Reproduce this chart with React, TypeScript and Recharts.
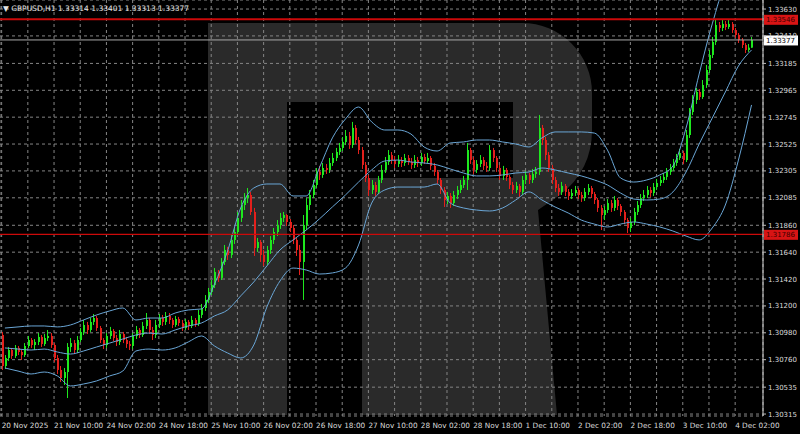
import React from 'react';
import { ComposedChart, Bar, Line, XAxis, YAxis, CartesianGrid, ReferenceLine } from 'recharts';

// GBPUSD H1, one value per hourly bar (open = previous close)
const firstOpen = 1.30962;

const closes = [
  1.30708, 1.30774, 1.30839, 1.30790, 1.30856, 1.30823, 1.30798, 1.30872, 1.30921, 1.30880,
  1.30905, 1.30946, 1.30888, 1.30937, 1.30954, 1.30880, 1.30774, 1.30676, 1.30610, 1.30659,
  1.30864, 1.30896, 1.30839, 1.30921, 1.30987, 1.31044, 1.31003, 1.31069, 1.31101, 1.31019,
  1.30921, 1.30880, 1.30954, 1.30995, 1.30937, 1.30905, 1.30970, 1.30921, 1.30888, 1.30872,
  1.30954, 1.31003, 1.30962, 1.31036, 1.31085, 1.31003, 1.30962, 1.31044, 1.31101, 1.31069,
  1.31118, 1.31085, 1.31044, 1.31093, 1.31060, 1.31019, 1.31069, 1.31036, 1.31085, 1.31052,
  1.31126, 1.31183, 1.31249, 1.31314, 1.31371, 1.31478, 1.31429, 1.31560, 1.31658, 1.31617,
  1.31740, 1.31805, 1.31920, 1.32026, 1.32083, 1.32108, 1.31969, 1.31674, 1.31723, 1.31617,
  1.31560, 1.31658, 1.31740, 1.31805, 1.31862, 1.31920, 1.31944, 1.31887, 1.31838, 1.31740,
  1.31658, 1.31560, 1.31862, 1.32026, 1.32108, 1.32190, 1.32297, 1.32272, 1.32329, 1.32313,
  1.32370, 1.32411, 1.32460, 1.32493, 1.32542, 1.32591, 1.32517, 1.32657, 1.32558, 1.32476,
  1.32354, 1.32247, 1.32149, 1.32190, 1.32133, 1.32231, 1.32313, 1.32378, 1.32435, 1.32394,
  1.32362, 1.32394, 1.32370, 1.32411, 1.32378, 1.32354, 1.32394, 1.32370, 1.32419, 1.32386,
  1.32411, 1.32346, 1.32297, 1.32231, 1.32149, 1.32067, 1.32100, 1.32042, 1.32108, 1.32149,
  1.32190, 1.32231, 1.32476, 1.32394, 1.32313, 1.32362, 1.32394, 1.32346, 1.32329, 1.32476,
  1.32411, 1.32329, 1.32264, 1.32313, 1.32256, 1.32190, 1.32149, 1.32182, 1.32133, 1.32231,
  1.32272, 1.32231, 1.32280, 1.32297, 1.32657, 1.32558, 1.32435, 1.32329, 1.32231, 1.32165,
  1.32133, 1.32182, 1.32133, 1.32100, 1.32124, 1.32149, 1.32108, 1.32083, 1.32133, 1.32165,
  1.32116, 1.32067, 1.32002, 1.31944, 1.31985, 1.32042, 1.32002, 1.32067, 1.32018, 1.31969,
  1.31903, 1.31838, 1.31887, 1.31969, 1.32026, 1.32083, 1.32108, 1.32149, 1.32124, 1.32173,
  1.32206, 1.32231, 1.32256, 1.32297, 1.32329, 1.32370, 1.32411, 1.32452, 1.32394, 1.32599,
  1.32787, 1.32886, 1.32951, 1.32910, 1.33008, 1.33131, 1.33254, 1.33360, 1.33499, 1.33475,
  1.33508, 1.33483, 1.33508, 1.33458, 1.33418, 1.33377, 1.33336, 1.33295, 1.33314, 1.33377,
];

const highs = [
  1.30987, 1.30798, 1.30864, 1.30856, 1.30880, 1.30872, 1.30839, 1.30896, 1.30954, 1.30937,
  1.30929, 1.30978, 1.30962, 1.30970, 1.31003, 1.30978, 1.30896, 1.30798, 1.30708, 1.30692,
  1.30896, 1.30937, 1.30921, 1.30954, 1.31019, 1.31085, 1.31069, 1.31101, 1.31134, 1.31118,
  1.31036, 1.30937, 1.30978, 1.31028, 1.31011, 1.30962, 1.31003, 1.30987, 1.30946, 1.30913,
  1.30978, 1.31036, 1.31019, 1.31069, 1.31142, 1.31101, 1.31028, 1.31085, 1.31134, 1.31126,
  1.31150, 1.31142, 1.31101, 1.31118, 1.31110, 1.31085, 1.31093, 1.31085, 1.31118, 1.31101,
  1.31167, 1.31216, 1.31289, 1.31347, 1.31412, 1.31510, 1.31494, 1.31592, 1.31699, 1.31683,
  1.31781, 1.31838, 1.31969, 1.32067, 1.32124, 1.32165, 1.32132, 1.32002, 1.31756, 1.31740,
  1.31658, 1.31691, 1.31772, 1.31838, 1.31903, 1.31961, 1.31969, 1.31952, 1.31911, 1.31862,
  1.31756, 1.31699, 1.31944, 1.32083, 1.32149, 1.32231, 1.32329, 1.32346, 1.32370, 1.32362,
  1.32411, 1.32452, 1.32493, 1.32534, 1.32583, 1.32640, 1.32624, 1.32706, 1.32681, 1.32583,
  1.32501, 1.32378, 1.32272, 1.32231, 1.32215, 1.32264, 1.32354, 1.32419, 1.32476, 1.32460,
  1.32427, 1.32435, 1.32419, 1.32444, 1.32435, 1.32411, 1.32435, 1.32419, 1.32452, 1.32444,
  1.32452, 1.32427, 1.32370, 1.32313, 1.32247, 1.32173, 1.32133, 1.32124, 1.32141, 1.32182,
  1.32231, 1.32264, 1.32534, 1.32493, 1.32419, 1.32394, 1.32435, 1.32419, 1.32378, 1.32517,
  1.32493, 1.32427, 1.32354, 1.32346, 1.32329, 1.32272, 1.32215, 1.32215, 1.32198, 1.32264,
  1.32305, 1.32288, 1.32321, 1.32337, 1.32763, 1.32681, 1.32583, 1.32460, 1.32354, 1.32256,
  1.32198, 1.32215, 1.32198, 1.32157, 1.32157, 1.32182, 1.32165, 1.32133, 1.32165, 1.32198,
  1.32182, 1.32133, 1.32083, 1.32026, 1.32018, 1.32075, 1.32067, 1.32100, 1.32083, 1.32034,
  1.31985, 1.31920, 1.31920, 1.32002, 1.32059, 1.32116, 1.32149, 1.32182, 1.32173, 1.32206,
  1.32239, 1.32264, 1.32288, 1.32329, 1.32362, 1.32403, 1.32444, 1.32485, 1.32468, 1.32640,
  1.32820, 1.32926, 1.32984, 1.32975, 1.33049, 1.33172, 1.33295, 1.33401, 1.33540, 1.33524,
  1.33540, 1.33532, 1.33540, 1.33524, 1.33475, 1.33434, 1.33393, 1.33352, 1.33344, 1.33401,
];

const lows = [
  1.30676, 1.30684, 1.30749, 1.30766, 1.30774, 1.30798, 1.30757, 1.30782, 1.30856, 1.30856,
  1.30839, 1.30880, 1.30864, 1.30872, 1.30913, 1.30856, 1.30741, 1.30643, 1.30578, 1.30553,
  1.30446, 1.30823, 1.30806, 1.30815, 1.30905, 1.30962, 1.30970, 1.30987, 1.31044, 1.30995,
  1.30896, 1.30847, 1.30856, 1.30929, 1.30913, 1.30872, 1.30880, 1.30896, 1.30856, 1.30839,
  1.30847, 1.30929, 1.30937, 1.30946, 1.31011, 1.30970, 1.30921, 1.30937, 1.31019, 1.31036,
  1.31044, 1.31052, 1.31019, 1.31028, 1.31036, 1.30995, 1.31003, 1.31003, 1.31019, 1.31028,
  1.31036, 1.31101, 1.31159, 1.31224, 1.31289, 1.31347, 1.31396, 1.31412, 1.31535, 1.31576,
  1.31592, 1.31707, 1.31781, 1.31887, 1.31985, 1.32042, 1.31944, 1.31609, 1.31642, 1.31560,
  1.31527, 1.31535, 1.31625, 1.31707, 1.31772, 1.31830, 1.31887, 1.31854, 1.31805, 1.31707,
  1.31609, 1.31453, 1.31249, 1.31821, 1.31985, 1.32083, 1.32165, 1.32231, 1.32248, 1.32280,
  1.32288, 1.32346, 1.32386, 1.32435, 1.32468, 1.32517, 1.32485, 1.32493, 1.32525, 1.32443,
  1.32321, 1.32214, 1.32100, 1.32116, 1.32100, 1.32116, 1.32206, 1.32288, 1.32354, 1.32362,
  1.32329, 1.32337, 1.32337, 1.32346, 1.32354, 1.32321, 1.32329, 1.32337, 1.32346, 1.32362,
  1.32370, 1.32313, 1.32264, 1.32198, 1.32116, 1.32010, 1.32034, 1.32002, 1.32018, 1.32075,
  1.32124, 1.32165, 1.32149, 1.32362, 1.32280, 1.32288, 1.32337, 1.32313, 1.32297, 1.32305,
  1.32378, 1.32297, 1.32231, 1.32231, 1.32223, 1.32157, 1.32116, 1.32124, 1.32092, 1.32108,
  1.32198, 1.32198, 1.32206, 1.32248, 1.32272, 1.32517, 1.32394, 1.32297, 1.32198, 1.32133,
  1.32100, 1.32108, 1.32100, 1.32067, 1.32075, 1.32100, 1.32075, 1.32051, 1.32059, 1.32108,
  1.32083, 1.32034, 1.31969, 1.31821, 1.31903, 1.31961, 1.31969, 1.31977, 1.31985, 1.31936,
  1.31870, 1.31797, 1.31805, 1.31862, 1.31944, 1.32002, 1.32059, 1.32083, 1.32092, 1.32100,
  1.32149, 1.32182, 1.32206, 1.32231, 1.32272, 1.32305, 1.32346, 1.32394, 1.32362, 1.32378,
  1.32575, 1.32763, 1.32853, 1.32886, 1.32894, 1.32984, 1.33106, 1.33229, 1.33336, 1.33442,
  1.33450, 1.33458, 1.33467, 1.33434, 1.33393, 1.33352, 1.33311, 1.33270, 1.33279, 1.33313,
];

// Bollinger bands, read every 4th bar starting at bar 1
const bandFirstBar = 1;
const bandStep = 4;

const upperBand = [
  1.31019, 1.31028, 1.31036, 1.31036, 1.31028, 1.31044, 1.31085, 1.31126, 1.31159, 1.31183,
  1.31085, 1.31101, 1.31101, 1.31142, 1.31167, 1.31175, 1.31379, 1.31650, 1.32002, 1.32165,
  1.32198, 1.32198, 1.32100, 1.32100, 1.32329, 1.32575, 1.32730, 1.32828, 1.32706, 1.32640,
  1.32640, 1.32607, 1.32501, 1.32468, 1.32534, 1.32542, 1.32558, 1.32558, 1.32542, 1.32525,
  1.32501, 1.32575, 1.32624, 1.32624, 1.32624, 1.32615, 1.32476, 1.32247, 1.32214, 1.32231,
  1.32272, 1.32346, 1.32656, 1.33098, 1.33508, 1.33827, 1.33909, 1.33745,
];

const middleBand = [
  1.30856, 1.30847, 1.30839, 1.30847, 1.30823, 1.30806, 1.30831, 1.30864, 1.30896, 1.30929,
  1.30962, 1.30978, 1.30970, 1.31003, 1.31036, 1.31060, 1.31118, 1.31167, 1.31282, 1.31396,
  1.31527, 1.31658, 1.31740, 1.31821, 1.31911, 1.32010, 1.32108, 1.32214, 1.32313, 1.32386,
  1.32394, 1.32378, 1.32370, 1.32354, 1.32321, 1.32288, 1.32264, 1.32264, 1.32272, 1.32288,
  1.32296, 1.32329, 1.32313, 1.32288, 1.32264, 1.32231, 1.32190, 1.32124, 1.32075, 1.32067,
  1.32075, 1.32133, 1.32296, 1.32525, 1.32738, 1.32951, 1.33164, 1.33295,
];

const lowerBand = [
  1.30692, 1.30667, 1.30643, 1.30659, 1.30627, 1.30545, 1.30561, 1.30586, 1.30627, 1.30667,
  1.30831, 1.30847, 1.30839, 1.30856, 1.30905, 1.30954, 1.30872, 1.30815, 1.30774, 1.30880,
  1.31191, 1.31404, 1.31510, 1.31494, 1.31461, 1.31470, 1.31510, 1.31699, 1.32042, 1.32149,
  1.32173, 1.32173, 1.32173, 1.32198, 1.32042, 1.32002, 1.31985, 1.31977, 1.32002, 1.32067,
  1.32133, 1.32067, 1.32010, 1.31961, 1.31903, 1.31870, 1.31846, 1.31870, 1.31887, 1.31870,
  1.31846, 1.31813, 1.31772, 1.31740, 1.31838, 1.32026, 1.32394, 1.32845,
];

const timeLabelBars = [0, 16, 32, 48, 64, 80, 96, 112, 128, 144, 160, 176, 192, 208, 224];
const timeLabels = [
  '20 Nov 2025', '21 Nov 10:00', '24 Nov 02:00', '24 Nov 18:00', '25 Nov 10:00',
  '26 Nov 02:00', '26 Nov 18:00', '27 Nov 10:00', '28 Nov 02:00', '28 Nov 18:00',
  '1 Dec 10:00', '2 Dec 02:00', '2 Dec 18:00', '3 Dec 10:00', '4 Dec 02:00',
];

const priceTicks = [
  1.33630, 1.33410, 1.33185, 1.32965, 1.32745, 1.32525, 1.32305, 1.32085,
  1.31860, 1.31640, 1.31420, 1.31200, 1.30980, 1.30760, 1.30535, 1.30315,
];

const resistance = 1.33546;
const support = 1.31786;
const bid = 1.33377;
const symbolTitle = 'GBPUSD,H1';

const W = 800;
const H = 434;
const shiftBars = 3; // empty space right of the last bar
const UP = '#1ee81e';
const DOWN = '#e4201c';
const BAND = '#6aa6d6';
const FONT = 'DejaVu Sans, Verdana, sans-serif';

const rows = Array.from({ length: closes.length + shiftBars }, (_, i) => {
  const row: any = { bar: i };
  if (i < closes.length) {
    row.open = i === 0 ? firstOpen : closes[i - 1];
    row.close = closes[i];
    row.high = highs[i];
    row.low = lows[i];
    row.range = [lows[i], highs[i]];
  }
  const k = (i - bandFirstBar) / bandStep;
  if (Number.isInteger(k) && k >= 0 && k < upperBand.length) {
    row.upper = upperBand[k];
    row.middle = middleBand[k];
    row.lower = lowerBand[k];
  }
  return row;
});

const gridBars = timeLabelBars.flatMap((b) => [b, b + 8]).filter((b) => b <= 224);

const last = closes.length - 1;
const header = `${symbolTitle}  ${closes[last - 1].toFixed(5)} ${highs[last].toFixed(5)} ${lows[last].toFixed(5)} ${closes[last].toFixed(5)}`;

const Candle = (props: any) => {
  const { x, y, width, height, payload } = props;
  if (!payload || payload.close == null || !height) return null;
  const { open, close, high, low } = payload;
  const k = height / (high - low);
  const yOf = (v: number) => y + (high - v) * k;
  const cx = Math.round(x + width / 2);
  const color = close >= open ? UP : DOWN;
  const top = yOf(Math.max(open, close));
  const bottom = yOf(Math.min(open, close));
  return (
    <g>
      <line x1={cx + 0.5} x2={cx + 0.5} y1={y} y2={y + height} stroke={color} strokeWidth={1} />
      <rect x={cx} y={top} width={2} height={Math.max(1, bottom - top)} fill={color} />
    </g>
  );
};

const TimeTick = (props: any) => {
  const { x, y, payload } = props;
  const idx = timeLabelBars.indexOf(payload.value);
  if (idx < 0) return null;
  return (
    <text x={x} y={y} dy={4} fill="#dcdcdc" fontSize={7.3} fontFamily={FONT} textAnchor="start">
      {timeLabels[idx]}
    </text>
  );
};

const PriceTick = (props: any) => {
  const { x, y, payload } = props;
  return (
    <text x={x} y={y} dy={2.5} fill="#dcdcdc" fontSize={7} fontFamily={FONT} textAnchor="start">
      {payload.value.toFixed(5)}
    </text>
  );
};

const PriceTag = (props: any) => {
  const { viewBox, fill, color, value } = props;
  if (!viewBox) return null;
  const left = viewBox.x + viewBox.width + 1;
  return (
    <g>
      <rect x={left} y={viewBox.y - 4.5} width={34} height={10} fill={fill} />
      <text x={left + 2} y={viewBox.y + 3} fill={color} fontSize={7} fontFamily={FONT}>
        {value.toFixed(5)}
      </text>
    </g>
  );
};

export default function App() {
  return (
    <div style={{ position: 'absolute', left: 0, top: 0, width: W, height: H, background: '#000', overflow: 'hidden' }}>
      {/* watermark logo */}
      <svg width={W} height={H} style={{ position: 'absolute', left: 0, top: 0 }}>
        <path
          d="M208,23 H522 A70,70 0 0 1 592,93 V130 Q592,170 560,195 L538,210 L557,415 H362 V178 H513 V102 H287 V415 H208 Z"
          fill="#2a2a2a"
        />
      </svg>
      <div style={{ position: 'absolute', left: 0, top: 0 }}>
        <ComposedChart width={W} height={H} data={rows} margin={{ top: 0, right: 0, bottom: 0, left: 0 }} barCategoryGap={0}>
          <CartesianGrid stroke="#858585" strokeDasharray="3 3" strokeWidth={1} />
          <XAxis
            dataKey="bar"
            type="category"
            ticks={gridBars}
            interval={0}
            height={18}
            tickLine={false}
            axisLine={false}
            tick={<TimeTick />}
          />
          <YAxis
            orientation="right"
            type="number"
            domain={[1.30299, 1.33704]}
            allowDataOverflow
            ticks={priceTicks}
            interval={0}
            width={37}
            tickSize={3}
            tickMargin={2}
            tickLine={{ stroke: '#bdbdbd' }}
            axisLine={{ stroke: '#d8d8d8' }}
            tick={<PriceTick />}
          />
          <Line type="monotone" dataKey="upper" stroke={BAND} strokeWidth={1} dot={false} connectNulls isAnimationActive={false} />
          <Line type="monotone" dataKey="middle" stroke={BAND} strokeWidth={1} dot={false} connectNulls isAnimationActive={false} />
          <Line type="monotone" dataKey="lower" stroke={BAND} strokeWidth={1} dot={false} connectNulls isAnimationActive={false} />
          <Bar dataKey="range" barSize={3} shape={<Candle />} isAnimationActive={false} />
          <ReferenceLine y={resistance} stroke="#cc0a0a" strokeWidth={2} label={<PriceTag fill="#d81414" color="#3a0000" value={resistance} />} />
          <ReferenceLine y={support} stroke="#cc0a0a" strokeWidth={1.2} label={<PriceTag fill="#d81414" color="#3a0000" value={support} />} />
          <ReferenceLine y={bid} stroke="#a8a8a8" strokeWidth={1} label={<PriceTag fill="#ffffff" color="#000000" value={bid} />} />
        </ComposedChart>
      </div>
      <svg width={W} height={H} style={{ position: 'absolute', left: 0, top: 0, pointerEvents: 'none' }}>
        <text x={3} y={10.5} fill="#e6e6e6" fontSize={7.5} fontFamily={FONT}>
          {'\u25BC ' + header}
        </text>
      </svg>
    </div>
  );
}
